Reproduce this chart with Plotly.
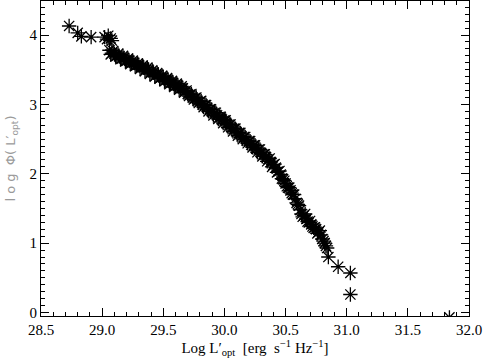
import plotly.graph_objects as go

# Isolated bright-end points
x_iso = [28.73, 28.80, 28.83, 28.91, 29.02, 29.04, 29.05, 29.07, 29.08]
y_iso = [4.13, 4.03, 3.98, 3.97, 3.97, 3.94, 3.99, 3.95, 3.92]

# Dense band of points (first pass)
x_band = [29.06, 29.08, 29.10, 29.12, 29.14, 29.16, 29.18, 29.20, 29.22, 29.24,
          29.26, 29.28, 29.30, 29.32, 29.34, 29.36, 29.38, 29.40, 29.42, 29.44,
          29.46, 29.48, 29.50, 29.52, 29.54, 29.56, 29.58, 29.60, 29.62, 29.64,
          29.66, 29.68, 29.70, 29.72, 29.74, 29.76, 29.78, 29.80, 29.82, 29.84,
          29.86, 29.88, 29.90, 29.92, 29.94, 29.96, 29.98, 30.00, 30.02, 30.04,
          30.06, 30.08, 30.10, 30.12, 30.14, 30.16, 30.18, 30.20, 30.22, 30.24,
          30.26, 30.28, 30.30, 30.32, 30.34, 30.36, 30.38, 30.40, 30.42, 30.44,
          30.46, 30.48, 30.50, 30.52, 30.54, 30.56, 30.58, 30.60, 30.62, 30.63,
          30.65, 30.67, 30.69, 30.71, 30.73, 30.75, 30.77, 30.79, 30.80, 30.82,
          30.84]
y_band = [3.78, 3.74, 3.73, 3.70, 3.69, 3.66, 3.67, 3.63, 3.63, 3.60,
          3.60, 3.56, 3.57, 3.53, 3.53, 3.50, 3.50, 3.46, 3.46, 3.42,
          3.43, 3.39, 3.39, 3.35, 3.35, 3.31, 3.31, 3.27, 3.27, 3.23,
          3.23, 3.19, 3.15, 3.14, 3.10, 3.09, 3.05, 3.04, 3.00, 2.99,
          2.95, 2.93, 2.89, 2.88, 2.84, 2.82, 2.78, 2.77, 2.72, 2.71,
          2.66, 2.65, 2.60, 2.59, 2.54, 2.53, 2.48, 2.47, 2.42, 2.41,
          2.36, 2.35, 2.30, 2.28, 2.24, 2.21, 2.17, 2.13, 2.09, 2.03,
          1.99, 1.92, 1.86, 1.80, 1.76, 1.70, 1.64, 1.56, 1.48, 1.42,
          1.40, 1.35, 1.30, 1.27, 1.22, 1.20, 1.16, 1.12, 1.06, 1.00,
          0.93]

# Dense band of points (interleaved second pass)
x_band2 = [29.07, 29.09, 29.11, 29.13, 29.15, 29.17, 29.19, 29.21, 29.23, 29.25,
           29.27, 29.29, 29.31, 29.33, 29.35, 29.37, 29.39, 29.41, 29.43, 29.45,
           29.47, 29.49, 29.51, 29.53, 29.55, 29.57, 29.59, 29.61, 29.63, 29.65,
           29.67, 29.69, 29.71, 29.73, 29.75, 29.77, 29.79, 29.81, 29.83, 29.85,
           29.87, 29.89, 29.91, 29.93, 29.95, 29.97, 29.99, 30.01, 30.03, 30.05,
           30.07, 30.09, 30.11, 30.13, 30.15, 30.17, 30.19, 30.21, 30.23, 30.25,
           30.27, 30.29, 30.31, 30.33, 30.35, 30.37, 30.39, 30.41, 30.43, 30.45,
           30.47, 30.49, 30.51, 30.53, 30.55, 30.57, 30.59, 30.61, 30.64, 30.66,
           30.68, 30.70, 30.72, 30.74, 30.76, 30.78, 30.81, 30.83]
y_band2 = [3.72, 3.77, 3.69, 3.73, 3.65, 3.70, 3.62, 3.66, 3.58, 3.63,
           3.55, 3.59, 3.51, 3.56, 3.48, 3.53, 3.44, 3.49, 3.40, 3.45,
           3.37, 3.41, 3.33, 3.38, 3.29, 3.34, 3.25, 3.30, 3.21, 3.26,
           3.17, 3.20, 3.12, 3.15, 3.07, 3.10, 3.02, 3.05, 2.96, 2.99,
           2.90, 2.93, 2.84, 2.88, 2.79, 2.82, 2.73, 2.77, 2.67, 2.71,
           2.61, 2.65, 2.55, 2.59, 2.50, 2.53, 2.44, 2.47, 2.38, 2.41,
           2.31, 2.35, 2.25, 2.28, 2.18, 2.22, 2.10, 2.14, 2.02, 2.04,
           1.93, 1.90, 1.82, 1.80, 1.72, 1.70, 1.58, 1.54, 1.38, 1.42,
           1.31, 1.32, 1.24, 1.23, 1.14, 1.18, 1.03, 0.96]

# Faint-end isolated points
x_faint = [30.85, 30.93, 31.03, 31.03, 31.84]
y_faint = [0.80, 0.66, 0.57, 0.26, -0.07]

x_all = x_iso + x_band + x_band2 + x_faint
y_all = y_iso + y_band + y_band2 + y_faint

fig = go.Figure()
fig.add_trace(go.Scatter(
    x=x_all, y=y_all, mode="markers",
    marker=dict(symbol="asterisk-open", size=12, color="black",
                line=dict(color="black", width=1.3)),
    showlegend=False, cliponaxis=True,
))

font_serif = "Liberation Serif, Times New Roman, serif"

fig.update_layout(
    width=485, height=362,
    margin=dict(l=41, r=16, t=1, b=46),
    paper_bgcolor="white", plot_bgcolor="white",
    font=dict(family=font_serif, size=15, color="black"),
)
fig.update_xaxes(
    range=[28.5, 32.0], dtick=0.5, tick0=28.5, tickformat=".1f",
    showgrid=False, zeroline=False,
    showline=True, linecolor="black", linewidth=1, mirror="allticks",
    ticks="inside", ticklen=8, tickwidth=1, tickcolor="black",
    minor=dict(ticks="inside", ticklen=4, dtick=0.1, tickcolor="black", showgrid=False),
    tickfont=dict(family=font_serif, size=15),
    title=dict(text="Log L′<sub>opt</sub>  [erg  s<sup>−1</sup> Hz<sup>−1</sup>]",
               font=dict(family=font_serif, size=15), standoff=4),
)
fig.update_yaxes(
    range=[-0.05, 4.49], dtick=1, tick0=0,
    showgrid=False, zeroline=False,
    showline=True, linecolor="black", linewidth=1, mirror="allticks",
    ticks="inside", ticklen=8, tickwidth=1, tickcolor="black",
    minor=dict(ticks="inside", ticklen=4, dtick=0.1, tickcolor="black", showgrid=False),
    tickfont=dict(family=font_serif, size=15),
    title=dict(text="l o g  Φ( L′<sub>opt</sub>)",
               font=dict(family="DejaVu Sans, sans-serif", size=13, color="#9a9a9a"), standoff=10),
)

fig.write_html("out.html", config={"displayModeBar": False},
               post_script="document.body.style.margin='0';")
